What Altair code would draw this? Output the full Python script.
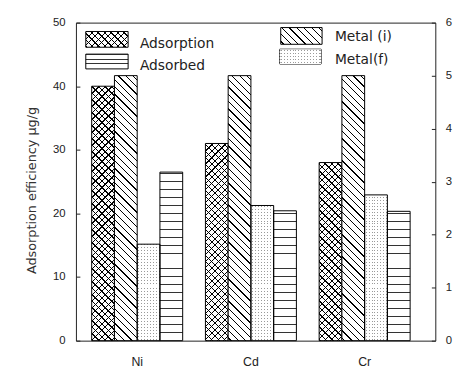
import math
import altair as alt
import pandas as pd

# ---------------- data ----------------
categories = ["Ni", "Cd", "Cr"]
series_names = ["Adsorption", "Metal (i)", "Metal(f)", "Adsorbed"]
adsorption = [40.0, 31.0, 28.0]          # left axis
metal_initial = [5.0, 5.0, 5.0]          # right axis
metal_final = [1.82, 2.55, 2.75]         # right axis
adsorbed = [3.18, 2.45, 2.44]            # right axis
left_ticks = [0, 10, 20, 30, 40, 50]
right_ticks = [0, 1, 2, 3, 4, 5, 6]
legend_labels = ["Adsorption", "Adsorbed", "Metal (i)", "Metal(f)"]
y_title = "Adsorption efficiency  \u03bcg/g"

# ---------------- layout / style ----------------
W, H = 365, 323
OX, OY = 77, 20          # page position of plot origin
LEFT_MAX, RIGHT_MAX = 50, 6
PI, PO, AL = 0.2, 0.18, 0.385
step = W / (len(categories) - PI + 2 * PO)
BAR_W = step * (1 - PI) / len(series_names)
TXT = "#222222"
TICK_FONT = "Liberation Sans"
LEG_FONT = "DejaVu Sans"
CLEAR = "rgba(255,255,255,0)"
DOT = "#9a9a9a"

rows = []
for i, c in enumerate(categories):
    rows.append({"cat": c, "series": "Adsorption", "value": adsorption[i]})
    rows.append({"cat": c, "series": "Metal (i)", "value": metal_initial[i]})
    rows.append({"cat": c, "series": "Metal(f)", "value": metal_final[i]})
    rows.append({"cat": c, "series": "Adsorbed", "value": adsorbed[i]})
df = pd.DataFrame(rows)


# ---------------- pattern helpers (gradient stripes) ----------------
def stops_along(L, period, lw, line, bg, phase):
    out = [(0.0, bg)]
    p = phase
    while p - lw / 2 < L:
        a = min(max((p - lw / 2) / L, 0.0), 1.0)
        b = min(max((p + lw / 2) / L, 0.0), 1.0)
        if b > 0:
            out += [(a, bg), (a, line), (b, line), (b, bg)]
        p += period
    out.append((1.0, bg))
    return [alt.GradientStop(offset=round(o, 5), color=c) for o, c in out]


def horiz(h, period, lw, line, bg, phase):
    return alt.LinearGradient(gradient="linear", x1=0, y1=1, x2=0, y2=0,
                              stops=stops_along(h, period, lw, line, bg, phase))


def vert(w, period, lw, line, bg, phase):
    return alt.LinearGradient(gradient="linear", x1=0, y1=0, x2=1, y2=0,
                              stops=stops_along(w, period, lw, line, bg, phase))


def diag_back(w, h, period, lw, line, bg, phase=0.0):   # "\" lines
    k = (w + h) / (w * w + h * h)
    return alt.LinearGradient(gradient="linear", x1=0, y1=1, x2=k * w, y2=1 - k * h,
                              stops=stops_along(w + h, period, lw * math.sqrt(2), line, bg, phase))


def diag_fwd(w, h, period, lw, line, bg, phase=0.0):    # "/" lines
    k = (w + h) / (w * w + h * h)
    return alt.LinearGradient(gradient="linear", x1=0, y1=0, x2=k * w, y2=k * h,
                              stops=stops_along(w + h, period, lw * math.sqrt(2), line, bg, phase))


# ---------------- encodings ----------------
X = alt.X("cat:N",
          scale=alt.Scale(domain=categories, paddingInner=PI, paddingOuter=PO, align=AL),
          axis=alt.Axis(title=None, domain=False, ticks=False, tickSize=0, labelAngle=0,
                        labelPadding=15, labelFont=TICK_FONT, labelFontSize=12.5,
                        labelColor=TXT, grid=False))
XO = alt.XOffset("series:N", scale=alt.Scale(domain=series_names, paddingInner=0, paddingOuter=0))
YL = alt.Y("value:Q", scale=alt.Scale(domain=[0, LEFT_MAX], nice=False),
           axis=alt.Axis(orient="left", title=y_title, values=left_ticks, offset=-4, tickSize=4,
                         tickColor=TXT, domain=False, grid=False, labelPadding=11,
                         labelFont=TICK_FONT, labelFontSize=11.5, labelColor=TXT,
                         titleFont=LEG_FONT, titleFontSize=13, titleFontWeight="normal",
                         titleColor="#333333", titleX=-49, titleY=170, titleAngle=270,
                         titleAlign="center", titleBaseline="middle"))
YR = alt.Y("value:Q", scale=alt.Scale(domain=[0, RIGHT_MAX], nice=False),
           axis=alt.Axis(orient="right", title=None, values=right_ticks, offset=-4, tickSize=4,
                         tickColor=TXT, domain=False, grid=False, labelPadding=10,
                         labelFont=TICK_FONT, labelFontSize=11.5, labelColor=TXT))


def bars(y, fill, ser, cat=None, **kw):
    ch = alt.Chart(df)
    if cat is None:
        ch = ch.transform_filter(alt.FieldEqualPredicate(field="series", equal=ser))
    else:
        ch = ch.transform_filter(alt.FieldEqualPredicate(field="series", equal=ser)) \
               .transform_filter(alt.FieldEqualPredicate(field="cat", equal=cat))
    return ch.mark_bar(fill=fill, strokeWidth=0, **kw).encode(x=X, xOffset=XO, y=y)


def outline(y, sers):
    return alt.Chart(df).transform_filter(
        alt.FieldOneOfPredicate(field="series", oneOf=sers)
    ).mark_bar(fill="transparent", stroke="#000000", strokeWidth=1).encode(x=X, xOffset=XO, y=y)


# ---------------- left group (Adsorption) ----------------
left_layers = []
for i, c in enumerate(categories):
    h = adsorption[i] * H / LEFT_MAX
    left_layers.append(bars(YL, diag_back(BAR_W, h, 6.6, 0.9, "#000000", "#ffffff", 1.0), "Adsorption", c))
    left_layers.append(bars(YL, diag_fwd(BAR_W, h, 6.6, 0.9, "#000000", CLEAR, 1.0), "Adsorption", c))
left_layers.append(outline(YL, ["Adsorption"]))
left_group = alt.layer(*left_layers)

# ---------------- right group ----------------
right_layers = []
hi = metal_initial[0] * H / RIGHT_MAX
right_layers.append(bars(YR, diag_back(BAR_W, hi, 7.5, 0.9, "#000000", "#ffffff", 3.0), "Metal (i)"))
for i, c in enumerate(categories):
    h = metal_final[i] * H / RIGHT_MAX
    right_layers.append(bars(YR, vert(BAR_W, 3.0, 1.0, DOT, "#ffffff", 1.5), "Metal(f)", c))
    right_layers.append(bars(YR, horiz(h, 3.0, 1.0, CLEAR, "#ffffff", 1.5), "Metal(f)", c))
for i, c in enumerate(categories):
    h = adsorbed[i] * H / RIGHT_MAX
    right_layers.append(bars(YR, horiz(h, 8.1, 1.0, "#333333", "#ffffff", 8.0), "Adsorbed", c))
right_layers.append(outline(YR, ["Metal (i)", "Metal(f)", "Adsorbed"]))
right_group = alt.layer(*right_layers)

# ---------------- in-plot legend ----------------
def box(label, x0, y0, x1, y1, fill):
    return alt.Chart(pd.DataFrame({"label": [label]})).mark_rect(
        fill=fill, stroke="#000000", strokeWidth=1
    ).encode(x=alt.value(x0 - OX), x2=alt.value(x1 - OX), y=alt.value(y0 - OY), y2=alt.value(y1 - OY))


def box_overlay(label, x0, y0, x1, y1, fill):
    return alt.Chart(pd.DataFrame({"label": [label]})).mark_rect(
        fill=fill, strokeWidth=0
    ).encode(x=alt.value(x0 - OX), x2=alt.value(x1 - OX), y=alt.value(y0 - OY), y2=alt.value(y1 - OY))


def label(text, x, y):
    return alt.Chart(pd.DataFrame({"label": [text]})).mark_text(
        align="left", baseline="middle", font=LEG_FONT, fontSize=14, color=TXT
    ).encode(x=alt.value(x - OX), y=alt.value(y - OY), text="label:N")


lw_, lh_ = 43, 16
legend_layers = [
    box(legend_labels[0], 87, 29, 130, 45, diag_back(lw_, lh_, 6.6, 0.9, "#000000", "#ffffff", 1.0)),
    box_overlay(legend_labels[0], 87, 29, 130, 45, diag_fwd(lw_, lh_, 6.6, 0.9, "#000000", CLEAR, 1.0)),
    label(legend_labels[0], 142, 42),
    box(legend_labels[1], 87, 52, 130, 67, horiz(15, 5.0, 1.0, "#333333", "#ffffff", 5.0)),
    label(legend_labels[1], 142, 64),
    box(legend_labels[2], 285, 25, 327, 42, diag_back(42, 17, 7.5, 0.9, "#000000", "#ffffff", 3.0)),
    label(legend_labels[2], 340, 35),
    box(legend_labels[3], 284, 47, 326, 62, vert(42, 3.0, 1.0, DOT, "#ffffff", 1.5)),
    box_overlay(legend_labels[3], 284, 47, 326, 62, horiz(15, 3.0, 1.0, CLEAR, "#ffffff", 1.5)),
    label(legend_labels[3], 340, 58),
]

chart = alt.layer(left_group, right_group, *legend_layers).resolve_scale(
    y="independent"
).properties(
    width=W, height=H,
    padding={"left": OX - 8, "top": OY - 8, "right": 20, "bottom": 30},
    autosize=alt.AutoSizeParams(type="none"),
    background="white",
).configure_view(stroke="#222222", strokeWidth=1)

chart.save("out.html", embed_options={"renderer": "svg", "actions": False})
